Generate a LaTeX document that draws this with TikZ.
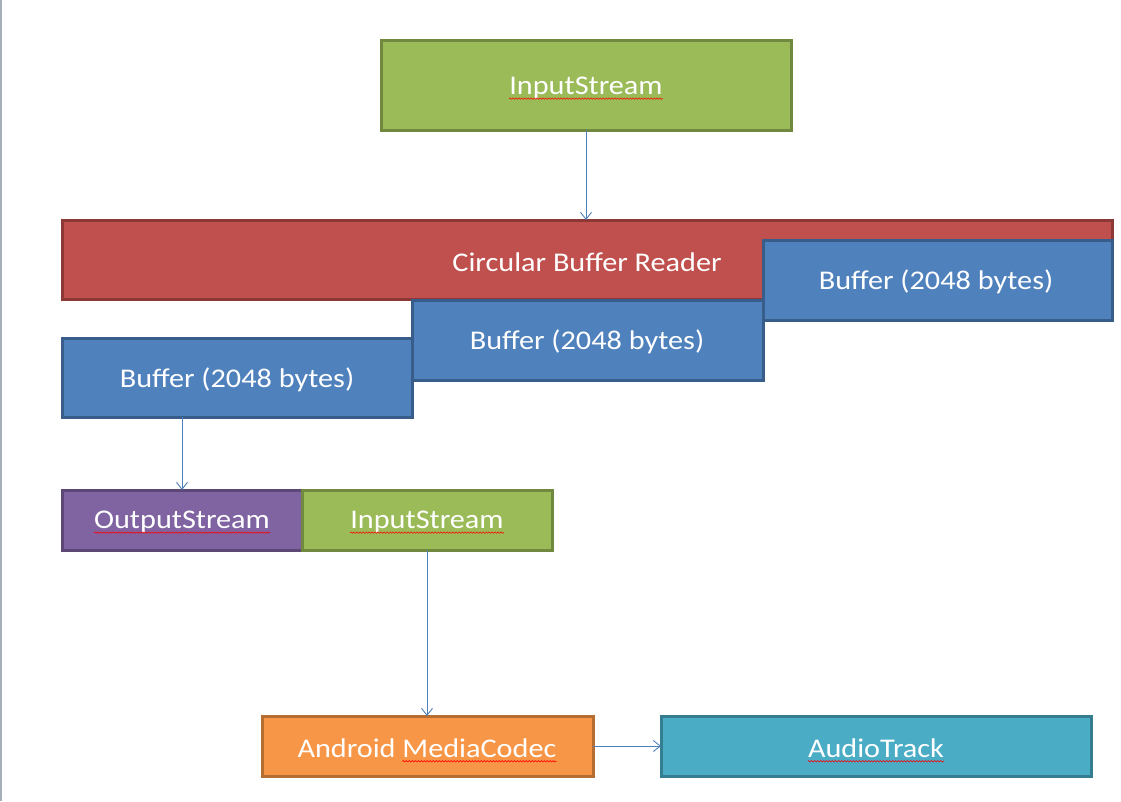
\documentclass[tikz,border=0pt]{standalone}
\usepackage{fontspec}
\setmainfont{Carlito}
\usetikzlibrary{arrows.meta,decorations.pathmorphing}
\definecolor{grfill}{HTML}{9BBB59}
\definecolor{grdraw}{HTML}{71893F}
\definecolor{rdfill}{HTML}{C0504D}
\definecolor{rddraw}{HTML}{8C3836}
\definecolor{blfill}{HTML}{4F81BD}
\definecolor{bldraw}{HTML}{385D8A}
\definecolor{pufill}{HTML}{8064A2}
\definecolor{pudraw}{HTML}{5C4776}
\definecolor{orfill}{HTML}{F79646}
\definecolor{ordraw}{HTML}{B66D31}
\definecolor{aqfill}{HTML}{4BACC6}
\definecolor{aqdraw}{HTML}{357D91}
\definecolor{arr}{HTML}{4F81BD}
\definecolor{edge}{HTML}{A6AFB8}
\newcommand{\wide}[1]{\scalebox{1.12}[1]{#1}}
\begin{document}
\begin{tikzpicture}[x=1pt,y=-1pt,
  box/.style={draw, line width=3pt, inner sep=0pt, outer sep=0pt},
  txt/.style={text=white, inner sep=0pt, font=\fontsize{27}{30}\selectfont},
  conn/.style={draw=arr, line width=0.9pt, -{Straight Barb[length=7pt,width=11pt]}},
  squig/.style={draw=red, line width=0.6pt, decorate, decoration={snake, amplitude=0.7pt, segment length=3pt}}
]
\useasboundingbox (0,0) rectangle (1121,801);
\fill[white] (0,0) rectangle (1121,801);
\draw[edge, line width=1.5pt] (1,0) -- (1,801);

% top input stream
\path[box, fill=grfill, draw=grdraw] (381,40) rectangle (791,130);
\coordinate (in1s) at (586,130);
\node[txt] (in1) at (586,88) {\wide{InputStream}};
\draw[squig] ([yshift=-4pt]in1.base west) -- ([yshift=-4pt]in1.base east);

% circular buffer reader
\path[box, fill=rdfill, draw=rddraw] (62,220) rectangle (1112,299);
\coordinate (cbrtop) at (586,220);
\node[txt] (cbr) at (587,262) {\wide{Circular Buffer Reader}};

% buffers
\path[box, fill=blfill, draw=bldraw] (763,240) rectangle (1112,320);
\node[txt] (b3) at (936,282) {\wide{Buffer (2048 bytes)}};
\path[box, fill=blfill, draw=bldraw] (412,300) rectangle (763,380);
\node[txt] (b2) at (587,342) {\wide{Buffer (2048 bytes)}};
\path[box, fill=blfill, draw=bldraw] (62,338) rectangle (412,417);
\node[txt] (b1) at (237,380) {\wide{Buffer (2048 bytes)}};
\coordinate (b1s) at (182,417);

% output / input stream
\path[box, fill=pufill, draw=pudraw] (62,490) rectangle (302,550);
\coordinate (outtop) at (182,490);
\node[txt] (out) at (182,522) {\wide{OutputStream}};
\draw[squig] ([yshift=-4pt]out.base west) -- ([yshift=-4pt]out.base east);
\path[box, fill=grfill, draw=grdraw] (302,490) rectangle (552,550);
\coordinate (in2s) at (427,550);
\node[txt] (in2) at (427,522) {\wide{InputStream}};
\draw[squig] ([yshift=-4pt]in2.base west) -- ([yshift=-4pt]in2.base east);

% media codec
\path[box, fill=orfill, draw=ordraw] (262,716) rectangle (593,776);
\coordinate (mctop) at (427,716);
\coordinate (mcr) at (593,746);
\node[txt] (mc) at (427,748) {\wide{Android MediaCodec}};
\node[txt, anchor=base east] (mcw) at (mc.base east) {\wide{\phantom{MediaCodec}}};
\draw[squig] ([yshift=-4pt]mcw.base west) -- ([yshift=-4pt]mcw.base east);

% audio track
\path[box, fill=aqfill, draw=aqdraw] (661,716) rectangle (1091,776);
\coordinate (atl) at (661,746);
\node[txt] (at) at (876,748) {\wide{AudioTrack}};
\draw[squig] ([yshift=-4pt]at.base west) -- ([yshift=-4pt]at.base east);

% connectors
\draw[conn] (in1s) -- (cbrtop);
\draw[conn] (b1s) -- (outtop);
\draw[conn] (in2s) -- (mctop);
\draw[conn] (mcr) -- (atl);
\end{tikzpicture}
\end{document}
